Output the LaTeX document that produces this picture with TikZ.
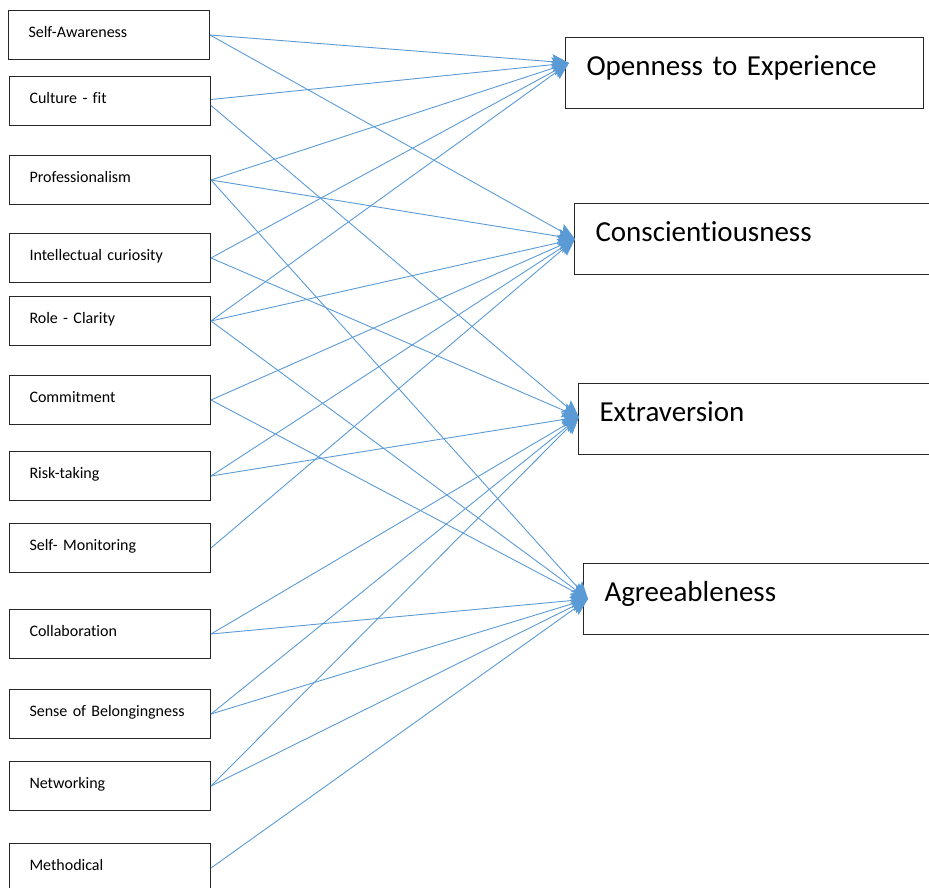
\documentclass[tikz,border=0pt]{standalone}
\usepackage{fontspec}
\setmainfont{Carlito}[Ligatures=NoCommon]
\usepackage{xcolor}
\usepackage{tikz}
\usetikzlibrary{arrows.meta}
\definecolor{linkblue}{HTML}{5B9BD5}

\begin{document}
\begin{tikzpicture}[x=1pt, y=-1pt, >={Stealth[length=17pt,width=15pt,inset=3pt]},
  every node/.style={inner ysep=0pt, align=left},
  factor/.style={draw=black!85, line width=1pt, anchor=north west, inner xsep=20pt, text width=161pt, text height=27pt, text depth=22pt, font=\fontsize{16}{19}\selectfont},
  trait/.style={draw=black!85, line width=1pt, anchor=north west, inner xsep=21pt, text height=38pt, text depth=33pt, font=\fontsize{29}{34}\selectfont},
  link/.style={->, draw=linkblue, line width=0.9pt}]
\useasboundingbox (0,0) rectangle (929,888);
% personal factors
\node[factor] (aware) at (8,10) {Self-Awareness};
\node[factor] (fit) at (9,76) {Culture - fit};
\node[factor] (prof) at (9,155) {Professionalism};
\node[factor] (curio) at (9,233) {Intellectual curiosity};
\node[factor] (role) at (9,296) {Role - Clarity};
\node[factor] (commit) at (9,375) {Commitment};
\node[factor] (risk) at (9,451) {Risk-taking};
\node[factor] (monit) at (9,523) {Self- Monitoring};
\node[factor] (collab) at (9,609) {Collaboration};
\node[factor] (belong) at (9,689) {Sense of Belongingness};
\node[factor] (network) at (9,761) {Networking};
\node[factor] (method) at (9,843) {Methodical};
% big five traits
\node[trait, text width=316pt] (open) at (565,37) {Openness to Experience};
\node[trait, text width=360pt] (consc) at (574,203) {Conscientiousness};
\node[trait, text width=360pt] (extra) at (578,383) {Extraversion};
\node[trait, text width=360pt] (agree) at (583,563) {Agreeableness};
\coordinate (toopen) at ([xshift=4pt,yshift=10pt]open.west);
\coordinate (toconsc) at ([xshift=1pt]consc.west);
\coordinate (toextra) at ([xshift=1pt,yshift=2pt]extra.west);
\coordinate (toagree) at ([xshift=5pt]agree.west);
\draw[link] (aware.east) -- (toopen);
\draw[link] (aware.east) -- (toconsc);
\draw[link] ([yshift=1.5pt]fit.east) -- (toopen);
\draw[link] ([yshift=-4.5pt]fit.east) -- (toextra);
\draw[link] (prof.east) -- (toopen);
\draw[link] (prof.east) -- (toconsc);
\draw[link] (prof.east) -- (toagree);
\draw[link] (curio.east) -- (toopen);
\draw[link] (curio.east) -- (toextra);
\draw[link] (role.east) -- (toopen);
\draw[link] (role.east) -- (toconsc);
\draw[link] (role.east) -- (toagree);
\draw[link] (commit.east) -- (toconsc);
\draw[link] (commit.east) -- (toagree);
\draw[link] (risk.east) -- (toconsc);
\draw[link] (risk.east) -- (toextra);
\draw[link] (monit.east) -- (toconsc);
\draw[link] (collab.east) -- (toextra);
\draw[link] (collab.east) -- (toagree);
\draw[link] (belong.east) -- (toextra);
\draw[link] (belong.east) -- (toagree);
\draw[link] (network.east) -- (toextra);
\draw[link] (network.east) -- (toagree);
\draw[link] (method.east) -- (toagree);
\end{tikzpicture}
\end{document}
